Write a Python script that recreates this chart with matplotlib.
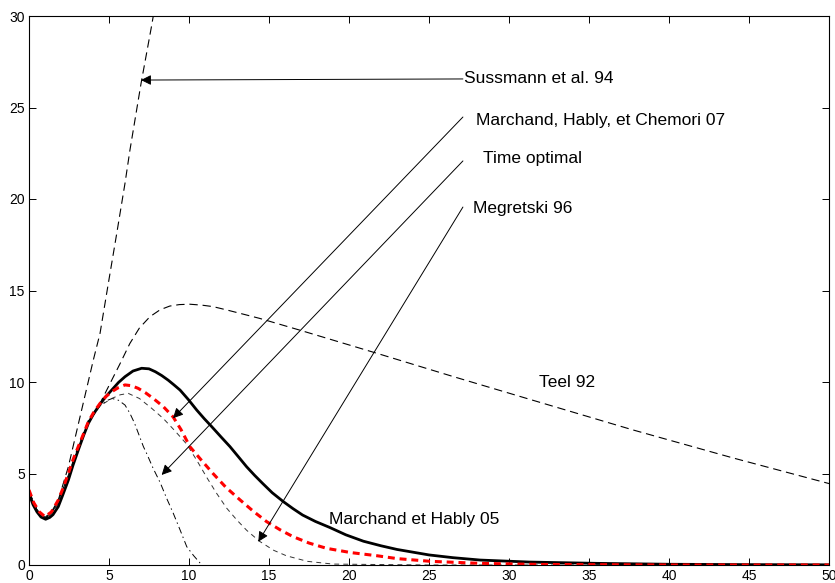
import matplotlib
matplotlib.use('Agg')
import matplotlib.pyplot as plt

plt.rcParams['font.family'] = ['Liberation Sans', 'DejaVu Sans']
plt.rcParams['lines.scale_dashes'] = False

# Marchand et Hably 05 (black solid)
x_mh05 = [0, 0.25, 0.5, 0.75, 1.04, 1.3, 1.5, 1.83, 2.1, 2.46, 2.75, 3.08, 3.4, 3.71, 4.0,
          4.33, 4.75, 5.17, 5.6, 6.0, 6.5, 7.04, 7.5, 7.9, 8.3, 8.7, 9.05, 9.44, 9.95,
          10.48, 10.95, 11.42, 12.0, 12.56, 13.1, 13.6, 14.1, 14.6, 15.2, 15.9, 16.5,
          17.1, 17.9, 18.8, 19.8, 20.9, 22.0, 23.0, 25.0, 26.5, 28.2, 31.3, 35.5, 40, 45, 50]
y_mh05 = [3.92, 3.3, 2.9, 2.62, 2.5, 2.6, 2.75, 3.19, 3.8, 4.64, 5.45, 6.28, 7.05, 7.74, 8.2,
          8.65, 9.15, 9.56, 9.98, 10.29, 10.6, 10.75, 10.72, 10.56, 10.35, 10.1, 9.85, 9.56, 9.05,
          8.47, 8.0, 7.56, 7.0, 6.47, 5.9, 5.37, 4.9, 4.46, 3.95, 3.46, 3.08,
          2.73, 2.38, 2.05, 1.65, 1.3, 1.05, 0.85, 0.55, 0.4, 0.27, 0.16, 0.09, 0.04, 0.02, 0.01]

# Marchand, Hably, et Chemori 07 (red dashed)
x_mhc07 = [0, 0.3, 0.65, 1.0, 1.4, 1.83, 2.15, 2.46, 2.75, 3.08, 3.4, 3.71, 4.05, 4.44, 4.8,
           5.17, 5.6, 6.0, 6.4, 6.83, 7.3, 7.77, 8.4, 9.0, 9.5, 10.06, 10.8, 11.5, 12.3,
           13.2, 14.0, 14.85, 15.7, 16.5, 17.5, 18.6, 20.1, 21.8, 23.0, 25.1, 28.2, 32, 40, 50]
y_mhc07 = [4.1, 3.4, 2.9, 2.64, 2.9, 3.55, 4.25, 5.01, 5.75, 6.47, 7.15, 7.83, 8.35, 8.83, 9.2,
           9.47, 9.7, 9.84, 9.8, 9.65, 9.4, 9.1, 8.65, 8.1, 7.4, 6.46, 5.7, 5.0, 4.25,
           3.55, 2.95, 2.37, 1.92, 1.55, 1.2, 0.91, 0.68, 0.5, 0.35, 0.2, 0.09, 0.03, 0.0, 0.0]

# Megretski 96 (thin grey dashed)
x_meg = [0, 0.5, 1.0, 1.4, 1.83, 2.46, 3.08, 3.71, 4.44, 5.17, 5.7, 6.2, 6.9, 7.67, 8.4,
         9.1, 9.86, 10.5, 11.1, 11.7, 12.36, 13.0, 13.6, 14.4, 15.3, 16.1, 17.4, 19, 25, 50]
y_meg = [4.0, 3.0, 2.55, 2.8, 3.4, 4.85, 6.4, 7.8, 8.7, 9.1, 9.3, 9.38, 9.1, 8.56, 8.0,
         7.35, 6.6, 5.7, 4.8, 3.95, 3.1, 2.45, 1.9, 1.3, 0.8, 0.5, 0.2, 0.05, 0.0, 0.0]

# Time optimal (dash-dot)
x_topt = [0, 0.5, 1.0, 1.4, 1.83, 2.46, 3.08, 3.71, 4.44, 4.85, 5.2, 5.6, 6.0, 6.3, 6.6, 7.15,
          7.35, 7.75, 8.2, 8.6, 9.02, 9.45, 9.86, 10.3, 10.7, 11.5]
y_topt = [4.0, 3.0, 2.55, 2.8, 3.4, 4.85, 6.4, 7.8, 8.7, 8.98, 9.1, 9.0, 8.74, 8.3, 7.74, 6.47,
          6.1, 5.3, 4.5, 3.65, 2.82, 1.9, 1.0, 0.5, 0.1, -1.0]

# Teel 92 (dashed)
x_teel = [0, 0.5, 1.0, 1.4, 1.83, 2.46, 3.08, 3.71, 4.44, 5.17, 5.69, 6.3, 6.9, 7.56, 8.2,
          8.8, 9.4, 10.06, 10.8, 11.5, 12.3, 13.2, 14.4, 16.9, 21.7, 26.5, 31.5, 37.75, 44, 50]
y_teel = [4.0, 3.0, 2.55, 2.8, 3.5, 4.9, 6.5, 7.9, 8.83, 10.1, 11.0, 12.1, 12.95, 13.57, 13.95,
          14.15, 14.23, 14.25, 14.2, 14.12, 13.95, 13.75, 13.48, 12.84, 11.58, 10.3, 9.0, 7.38, 5.85, 4.45]

# Sussmann et al. 94 (dashed)
x_sus = [0, 0.5, 1.0, 1.4, 1.83, 2.46, 3.19, 4.02, 4.44, 4.96, 5.48, 6.0, 6.31, 7.0, 7.67, 8.0]
y_sus = [4.0, 3.0, 2.6, 2.9, 3.55, 5.37, 8.1, 11.2, 12.66, 15.4, 18.1, 20.86, 22.68, 26.3, 29.5, 31.2]

labels = ['Sussmann et al. 94', 'Marchand, Hably, et Chemori 07', 'Time optimal',
          'Megretski 96', 'Teel 92', 'Marchand et Hably 05']
label_pos = [(27.19, 26.56), (27.94, 24.3), (28.4, 22.24), (27.75, 19.5), (31.9, 9.95), (18.75, 2.51)]
arrow_from = [(27.12, 26.56), (27.12, 24.48), (27.12, 22.08), (27.12, 19.56)]
arrow_to = [(7.0, 26.5), (9.0, 8.02), (8.29, 4.92), (14.33, 1.27)]

fig = plt.figure(figsize=(8.35, 5.83), dpi=100)
ax = fig.add_axes([29/835, 18/583, 800/835, 549/583])

ax.plot(x_sus, y_sus, color='black', lw=0.8, dashes=(6, 3.5))
ax.plot(x_teel, y_teel, color='black', lw=0.8, dashes=(6, 3.5))
ax.plot(x_topt, y_topt, color='black', lw=0.7, dashes=(5, 2.5, 1, 2.5))
ax.plot(x_meg, y_meg, color='#333333', lw=0.7, dashes=(3.5, 3))
ax.plot(x_mh05, y_mh05, color='black', lw=2.0)
ax.plot(x_mhc07, y_mhc07, color='red', lw=2.2, dashes=(5, 3.5))

for (tx, ty), (hx, hy) in zip(arrow_from, arrow_to):
    ax.annotate('', xy=(hx, hy), xytext=(tx, ty),
                arrowprops=dict(arrowstyle='-|>', color='black', lw=0.7,
                                mutation_scale=15, shrinkA=0, shrinkB=0))

for lab, (lx, ly) in zip(labels, label_pos):
    ax.text(lx, ly, lab, fontsize=12.5, ha='left', va='center')

ax.set_xlim(0, 50)
ax.set_ylim(0, 30)
ax.set_xticks(range(0, 51, 5))
ax.set_yticks(range(0, 31, 5))
ax.tick_params(direction='in', top=True, right=True, length=5, width=0.7,
               labelsize=10, pad=3)
for s in ax.spines.values():
    s.set_linewidth(0.8)

fig.savefig('out.png', dpi=100)
